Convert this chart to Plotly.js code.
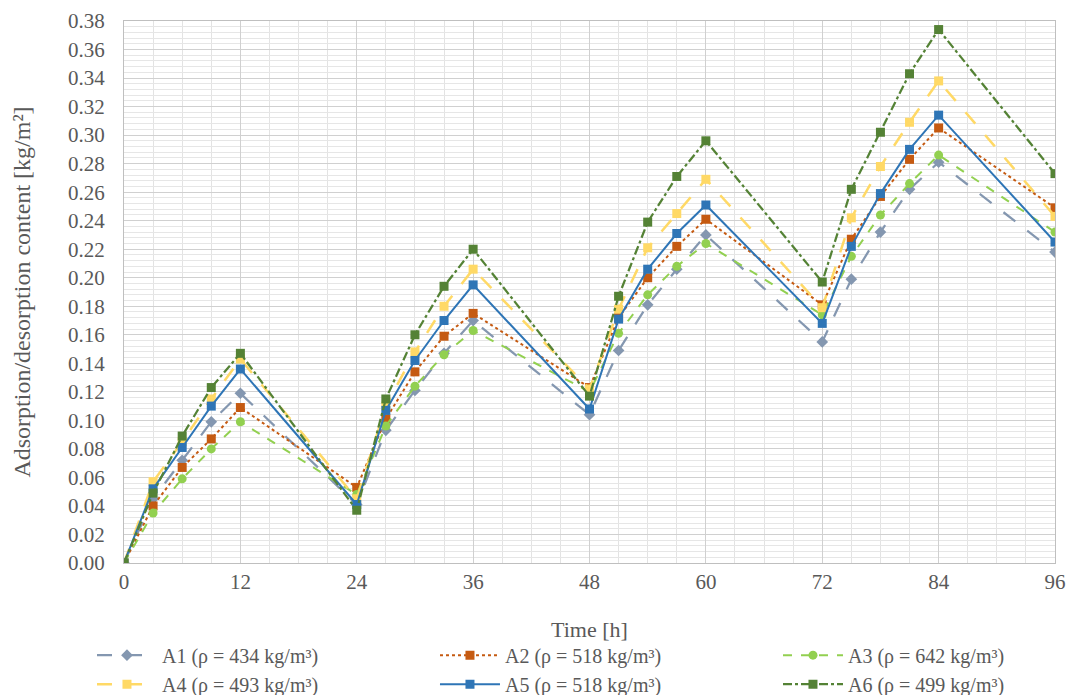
<!DOCTYPE html>
<html>
<head>
<meta charset="utf-8">
<script src="https://cdn.plot.ly/plotly-3.0.1.min.js"></script>
<style>html,body{margin:0;padding:0;background:#fff;}#chart{width:1068px;height:695px;}</style>
</head>
<body>
<div id="chart"></div>
<script>
const timeH = [0, 3, 6, 9, 12, 24, 27, 30, 33, 36, 48, 51, 54, 57, 60, 72, 75, 78, 81, 84, 96];

const A1 = [0, 0.045, 0.072, 0.099, 0.119, 0.041, 0.093, 0.121, 0.147, 0.170, 0.104, 0.149, 0.181, 0.206, 0.230, 0.155, 0.199, 0.232, 0.262, 0.281, 0.218];
const A2 = [0, 0.040, 0.067, 0.087, 0.109, 0.053, 0.101, 0.134, 0.159, 0.175, 0.123, 0.172, 0.200, 0.222, 0.241, 0.181, 0.227, 0.257, 0.283, 0.305, 0.249];
const A3 = [0, 0.035, 0.059, 0.080, 0.099, 0.048, 0.096, 0.124, 0.146, 0.163, 0.120, 0.161, 0.188, 0.208, 0.224, 0.174, 0.215, 0.244, 0.266, 0.286, 0.232];
const A4 = [0, 0.057, 0.085, 0.115, 0.143, 0.045, 0.110, 0.148, 0.180, 0.206, 0.122, 0.178, 0.221, 0.245, 0.269, 0.179, 0.242, 0.278, 0.309, 0.338, 0.243];
const A5 = [0, 0.052, 0.081, 0.110, 0.136, 0.041, 0.107, 0.142, 0.170, 0.195, 0.108, 0.171, 0.206, 0.231, 0.251, 0.168, 0.222, 0.259, 0.290, 0.314, 0.225];
const A6 = [0, 0.049, 0.089, 0.123, 0.147, 0.037, 0.115, 0.160, 0.194, 0.220, 0.117, 0.187, 0.239, 0.271, 0.296, 0.197, 0.262, 0.302, 0.343, 0.374, 0.273];

const seriesNames = [
  "A1 (ρ = 434 kg/m³)", "A2 (ρ = 518 kg/m³)", "A3 (ρ = 642 kg/m³)",
  "A4 (ρ = 493 kg/m³)", "A5 (ρ = 518 kg/m³)", "A6 (ρ = 499 kg/m³)"
];
const seriesData = [A1, A2, A3, A4, A5, A6];
const xTickVals = [0, 12, 24, 36, 48, 60, 72, 84, 96];

const styles = [
  {color: "#8497b0", dash: "longdash", symbol: "diamond", size: 9, width: 2.25},
  {color: "#c55a11", dash: "dot", symbol: "square", size: 9, width: 2},
  {color: "#92d050", dash: "dash", symbol: "circle", size: 9, width: 2},
  {color: "#ffd966", dash: "longdash", symbol: "square", size: 9, width: 2.5},
  {color: "#2e75b6", dash: "solid", symbol: "square", size: 9, width: 2},
  {color: "#548235", dash: "dashdot", symbol: "square", size: 9, width: 2.25}
];

const traces = seriesData.map((ys, i) => ({
  x: timeH, y: ys, name: seriesNames[i], type: "scatter", mode: "lines+markers",
  line: {color: styles[i].color, dash: styles[i].dash, width: styles[i].width},
  marker: {color: styles[i].color, symbol: styles[i].symbol, size: styles[i].size}
}));

const fontFam = "Liberation Serif, Times New Roman, serif";
const W = 1068, H = 695;
const layout = {
  width: W, height: H,
  margin: {l: 124, r: 13, t: 21, b: 132, autoexpand: false},
  paper_bgcolor: "#fff", plot_bgcolor: "#fff",
  font: {family: fontFam, size: 21, color: "#595959"},
  showlegend: true,
  legend: {
    orientation: "h", x: -0.0344, xanchor: "left", y: -0.134, yanchor: "top",
    entrywidth: 268, entrywidthmode: "pixels", tracegroupgap: 0, itemwidth: 60,
    font: {family: fontFam, size: 20, color: "#595959"}
  },
  xaxis: {
    range: [0, 96], tickvals: xTickVals, ticktext: xTickVals.map(String),
    showgrid: true, gridcolor: "#d0d0d0", gridwidth: 1,
    minor: {dtick: 3, tick0: 0, showgrid: true, gridcolor: "#e3e3e3", gridwidth: 1},
    zeroline: false, showline: true, linecolor: "#bfbfbf", mirror: true,
    ticks: "", ticklabelstandoff: 0,
    tickfont: {family: fontFam, size: 21, color: "#595959"},
    title: {text: "Time [h]", font: {family: fontFam, size: 22, color: "#595959"}, standoff: 28}
  },
  yaxis: {
    range: [0, 0.38], dtick: 0.02, tick0: 0, tickformat: ".2f",
    showgrid: true, gridcolor: "#d0d0d0", gridwidth: 1,
    minor: {dtick: 0.004, tick0: 0, showgrid: true, gridcolor: "#e6e6e6", gridwidth: 1},
    zeroline: false, showline: true, linecolor: "#bfbfbf", mirror: true,
    ticks: "", ticklabelstandoff: 14,
    tickfont: {family: fontFam, size: 21, color: "#595959"},
    title: {text: "Adsorption/desorption content [kg/m²]", font: {family: fontFam, size: 24, color: "#595959"}, standoff: 30}
  }
};

Plotly.newPlot("chart", traces, layout, {displayModeBar: false, staticPlot: true});
</script>
</body>
</html>
